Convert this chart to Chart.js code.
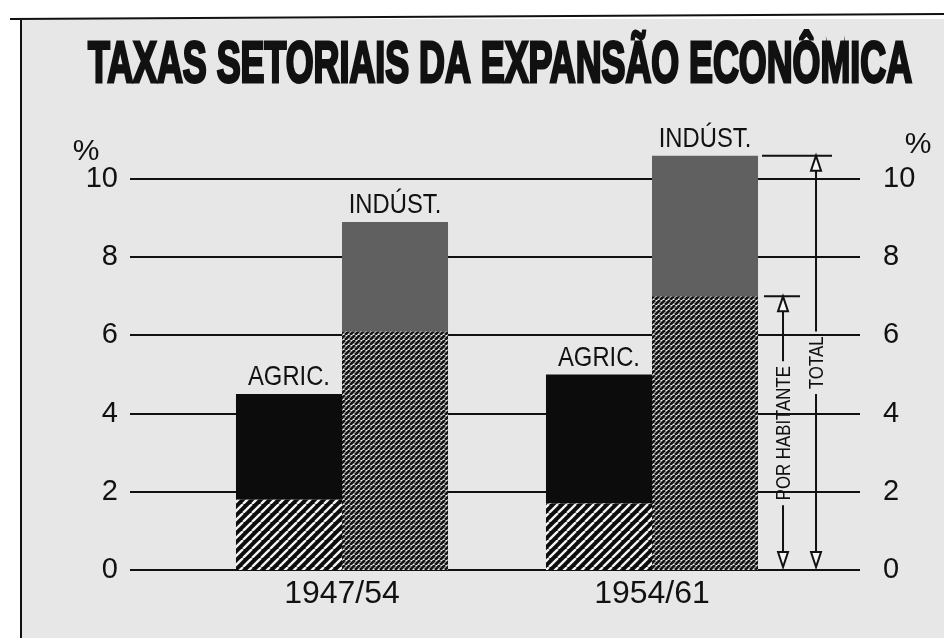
<!DOCTYPE html>
<html lang="pt">
<head>
<meta charset="utf-8">
<title>Taxas setoriais da expansão econômica</title>
<script src="https://cdn.jsdelivr.net/npm/chart.js@4.4.1/dist/chart.umd.min.js"></script>
<style>
  html, body { margin: 0; padding: 0; background: #fff; }
  canvas { display: block; }
</style>
</head>
<body>
<canvas id="chart" width="944" height="638"></canvas>
<script>
const TITLE = "TAXAS SETORIAIS DA EXPANSÃO ECONÔMICA";
const periods = ["1947/54", "1954/61"];
const agricTotal = [4.5, 5.0];
const agricPerHab = [1.8, 1.7];
const industTotal = [8.9, 10.6];
const industPerHab = [6.1, 7.0];
const yTicks = [0, 2, 4, 6, 8, 10];
const sectorLabels = ["AGRIC.", "INDÚST."];
const arrowLabels = ["POR HABITANTE", "TOTAL"];

const INK = "#111";
const PAPER = "#e7e7e7";
const FONT = '"Liberation Sans", Arial, sans-serif';

const canvas = document.getElementById("chart");
const mainCtx = canvas.getContext("2d");

// diagonal "/" hatching used for the per-inhabitant part of each bar
function hatch(size, bg, fg, width) {
  const c = document.createElement("canvas");
  c.width = size;
  c.height = size;
  const g = c.getContext("2d");
  g.fillStyle = bg;
  g.fillRect(0, 0, size, size);
  g.strokeStyle = fg;
  g.lineWidth = width;
  g.beginPath();
  for (const o of [-size, 0, size]) {
    g.moveTo(o, size);
    g.lineTo(o + size, 0);
  }
  g.stroke();
  return mainCtx.createPattern(c, "repeat");
}

const agricHatch = hatch(9, "#0c0c0c", "#f2f2f2", 2.4);
const industHatch = hatch(5, "#f2f2f2", "#161616", 2.8);

function narrowText(ctx, text, x, y, font, sx, align) {
  ctx.save();
  ctx.font = font;
  ctx.translate(x, y);
  ctx.scale(sx, 1);
  ctx.textAlign = align || "center";
  ctx.textBaseline = "alphabetic";
  ctx.fillText(text, 0, 0);
  ctx.restore();
}

const paperPlugin = {
  id: "paper",
  beforeDraw(chart) {
    const ctx = chart.ctx;
    ctx.save();
    ctx.fillStyle = "#fff";
    ctx.fillRect(0, 0, chart.width, chart.height);
    ctx.fillStyle = PAPER;
    ctx.fillRect(21, 19, chart.width, chart.height);
    ctx.strokeStyle = INK;
    ctx.lineWidth = 2;
    ctx.beginPath();
    ctx.moveTo(10, 19);
    ctx.lineTo(chart.width, 14);
    ctx.moveTo(21, 19);
    ctx.lineTo(21, chart.height);
    ctx.stroke();
    ctx.restore();
  },
};

const gridPlugin = {
  id: "longGrid",
  beforeDatasetsDraw(chart) {
    const ctx = chart.ctx;
    const y = chart.scales.y;
    ctx.save();
    ctx.strokeStyle = INK;
    ctx.lineWidth = 2;
    ctx.beginPath();
    for (const v of yTicks) {
      const py = Math.round(y.getPixelForValue(v));
      ctx.moveTo(130, py);
      ctx.lineTo(860, py);
    }
    ctx.stroke();
    ctx.restore();
  },
};

function arrowHead(ctx, x, tipY, dir) {
  const h = 15, w = 5;
  ctx.beginPath();
  ctx.moveTo(x, tipY);
  ctx.lineTo(x - w, tipY + dir * h);
  ctx.lineTo(x + w, tipY + dir * h);
  ctx.closePath();
  ctx.fillStyle = "#f6f6f6";
  ctx.fill();
  ctx.stroke();
}

function dimension(ctx, x, top, bottom, label, tickFrom, tickTo) {
  ctx.save();
  ctx.strokeStyle = INK;
  ctx.lineWidth = 2;
  ctx.beginPath();
  ctx.moveTo(tickFrom, top);
  ctx.lineTo(tickTo, top);
  ctx.stroke();

  const font = `21px ${FONT}`;
  ctx.font = font;
  const len = ctx.measureText(label).width * 0.8;
  const mid = (top + bottom) / 2;
  const gap = len / 2 + 5;
  ctx.beginPath();
  ctx.moveTo(x, top + 15);
  ctx.lineTo(x, mid - gap);
  ctx.moveTo(x, mid + gap);
  ctx.lineTo(x, bottom - 18);
  ctx.stroke();
  arrowHead(ctx, x, top, 1);
  arrowHead(ctx, x, bottom - 3, -1);

  ctx.translate(x + 7, mid);
  ctx.rotate(-Math.PI / 2);
  ctx.fillStyle = INK;
  narrowText(ctx, label, 0, 0, font, 0.8, "center");
  ctx.restore();
}

const notesPlugin = {
  id: "notes",
  afterDatasetsDraw(chart) {
    const ctx = chart.ctx;
    const y = chart.scales.y;
    ctx.save();
    ctx.fillStyle = INK;
    ctx.strokeStyle = INK;

    // title, squeezed to the width of the printed heading
    ctx.font = `bold 57px ${FONT}`;
    const tw = ctx.measureText(TITLE).width;
    ctx.save();
    ctx.translate(500, 82);
    ctx.scale(824 / tw, 1);
    ctx.textAlign = "center";
    ctx.lineWidth = 3;
    ctx.fillText(TITLE, 0, 0);
    ctx.strokeText(TITLE, 0, 0);
    ctx.restore();

    narrowText(ctx, "%", 86, 160, `30px ${FONT}`, 1, "center");
    narrowText(ctx, "%", 918, 153, `30px ${FONT}`, 1, "center");

    // sector names over the top of each stack
    [1, 3].forEach((di, k) => {
      chart.getDatasetMeta(di).data.forEach((bar) => {
        narrowText(ctx, sectorLabels[k], bar.x, bar.y - 9, `28px ${FONT}`, 0.85, "center");
      });
    });

    const last = chart.getDatasetMeta(3).data[1];
    const right = last.x + last.width / 2;
    const zero = y.getPixelForValue(0);
    dimension(ctx, right + 25, y.getPixelForValue(industPerHab[1]), zero, arrowLabels[0], right + 6, right + 42);
    dimension(ctx, right + 58, y.getPixelForValue(industTotal[1]), zero, arrowLabels[1], right + 4, right + 74);
    ctx.restore();
  },
};

const axisFont = { family: FONT, size: 29 };

// fixed axis width; drop the vertical label padding so the plot keeps its full height
function fixWidth(w) {
  return (s) => {
    s.width = w;
    s.paddingTop = 0;
    s.paddingBottom = 0;
  };
}

new Chart(canvas, {
  type: "bar",
  data: {
    labels: periods,
    datasets: [
      { label: "Agric. por habitante", data: agricPerHab, stack: "agric", backgroundColor: agricHatch },
      { label: "Agric. total", data: agricTotal.map((v, i) => v - agricPerHab[i]), stack: "agric", backgroundColor: "#0c0c0c" },
      { label: "Indúst. por habitante", data: industPerHab, stack: "indust", backgroundColor: industHatch },
      { label: "Indúst. total", data: industTotal.map((v, i) => v - industPerHab[i]), stack: "indust", backgroundColor: "#606060" },
    ],
  },
  options: {
    responsive: false,
    devicePixelRatio: 1,
    animation: false,
    categoryPercentage: 0.684,
    barPercentage: 1,
    layout: { padding: { top: 140, left: 0, right: 0, bottom: 0 } },
    plugins: {
      legend: { display: false },
      tooltip: { enabled: false },
    },
    scales: {
      x: {
        stacked: true,
        grid: { display: false, drawTicks: false },
        border: { display: false },
        ticks: { color: INK, font: { family: FONT, size: 32 }, padding: 5 },
        afterFit: (s) => { s.height = 68; },
      },
      y: {
        stacked: true,
        position: "left",
        min: 0,
        max: 11,
        afterBuildTicks: (s) => { s.ticks = yTicks.map((v) => ({ value: v })); },
        afterFit: fixWidth(187),
        grid: { display: false, drawTicks: false },
        border: { display: false },
        ticks: { color: INK, font: axisFont, padding: 69 },
      },
      y2: {
        position: "right",
        min: 0,
        max: 11,
        afterBuildTicks: (s) => { s.ticks = yTicks.map((v) => ({ value: v })); },
        afterFit: fixWidth(137),
        grid: { display: false, drawTicks: false },
        border: { display: false },
        ticks: { color: INK, font: axisFont, padding: 76 },
      },
    },
  },
  plugins: [paperPlugin, gridPlugin, notesPlugin],
});
</script>
</body>
</html>
